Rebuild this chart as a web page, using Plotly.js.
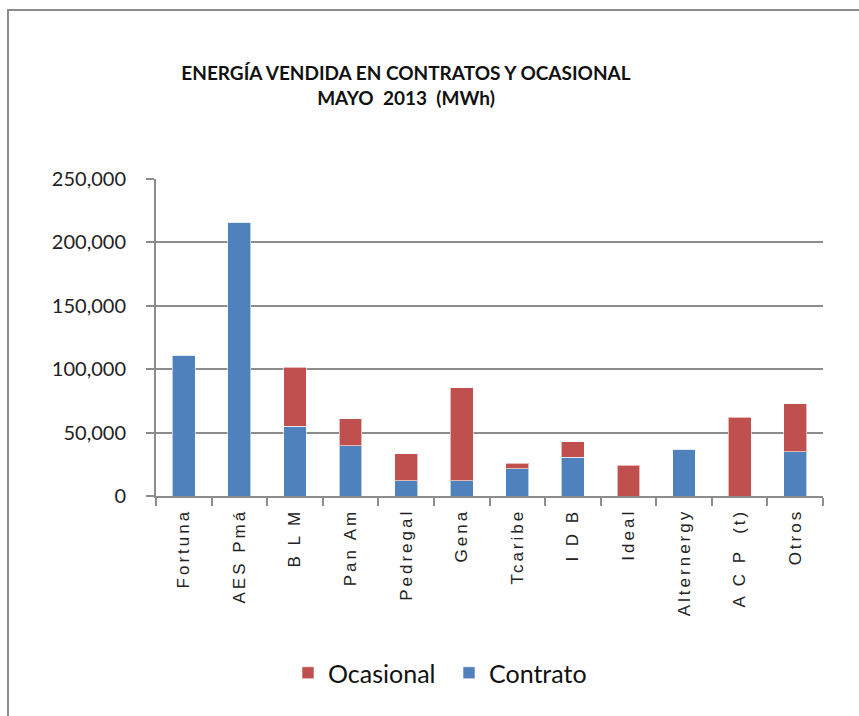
<!DOCTYPE html>
<html>
<head>
<meta charset="utf-8">
<script src="https://cdn.plot.ly/plotly-3.0.1.min.js"></script>
<style>
  html, body { margin: 0; padding: 0; background: #fff; }
  #wrap { position: relative; width: 859px; height: 716px; }
  #chart { position: absolute; left: 0; top: 0; width: 859px; height: 716px; }
  #frame { position: absolute; left: 7px; top: 9px; right: 0; bottom: 0;
           border-left: 2px solid #8c8c8c; border-top: 2px solid #8c8c8c; pointer-events: none; }
  .xtick text { letter-spacing: 3px; }
</style>
</head>
<body>
<div id="wrap">
  <div id="chart"></div>
  <div id="frame"></div>
</div>
<script>
const categories = ["Fortuna", "AES Pmá", "B L M", "Pan Am", "Pedregal", "Gena", "Tcaribe", "I D B", "Ideal", "Alternergy", "A C P  (t)", "Otros"];
const contrato  = [111000, 215800, 55000, 39700, 12100, 12100, 21300, 30500, 0, 36800, 0, 34900];
const ocasional = [0, 0, 46700, 21300, 21300, 73100, 4500, 12100, 24450, 0, 62300, 37900];
const yTickVals = [0, 50000, 100000, 150000, 200000, 250000];
const yTickText = ["0", "50,000", "100,000", "150,000", "200,000", "250,000"];

const data = [
  { type: "bar", name: "Contrato", x: categories, y: contrato,
    marker: { color: "#4F81BD", line: { color: "rgba(255,255,255,0.6)", width: 1 } }, width: 0.41 },
  { type: "bar", name: "Ocasional", x: categories, y: ocasional,
    marker: { color: "#C0504D", line: { color: "rgba(255,255,255,0.6)", width: 1 } }, width: 0.41 }
];

const layout = {
  width: 859, height: 716,
  margin: { l: 156, r: 36, t: 179, b: 220 },
  paper_bgcolor: "#fff", plot_bgcolor: "#fff",
  barmode: "stack",
  showlegend: true,
  title: {
    text: "ENERGÍA VENDIDA EN CONTRATOS Y OCASIONAL<br>MAYO  2013  (MWh)",
    font: { family: "Lato, 'Open Sans', sans-serif", size: 19, color: "#111", weight: "bold" },
    x: 406/859, xref: "container", xanchor: "center",
    y: 1 - 80/716, yref: "container", yanchor: "middle"
  },
  xaxis: {
    type: "category",
    tickangle: -90,
    tickson: "boundaries",
    ticks: "outside", ticklen: 8, tickwidth: 2, tickcolor: "#8c8c8c",
    showline: true, linecolor: "#8c8c8c", linewidth: 2,
    showgrid: false,
    tickfont: { family: "'Liberation Sans', Arial, sans-serif", size: 17, color: "#222" },
    ticklabelstandoff: 4
  },
  yaxis: {
    range: [0, 250000],
    tickvals: yTickVals, ticktext: yTickText,
    ticks: "outside", ticklen: 8, tickwidth: 2, tickcolor: "#8c8c8c",
    showline: true, linecolor: "#8c8c8c", linewidth: 2,
    showgrid: true, gridcolor: "#8c8c8c", gridwidth: 2,
    zeroline: false,
    tickfont: { family: "Lato, 'Open Sans', sans-serif", size: 20, color: "#222" },
    ticklabelstandoff: 16
  },
  legend: {
    orientation: "h", traceorder: "reversed",
    x: (288 - 156) / 667, xref: "paper", xanchor: "left",
    y: -(673 - 496) / 317, yanchor: "middle",
    font: { family: "Lato, 'Open Sans', sans-serif", size: 25, color: "#111" },
    entrywidth: 116, entrywidthmode: "pixels"
  }
};

Plotly.newPlot("chart", data, layout, { displayModeBar: false, staticPlot: true });
</script>
</body>
</html>
